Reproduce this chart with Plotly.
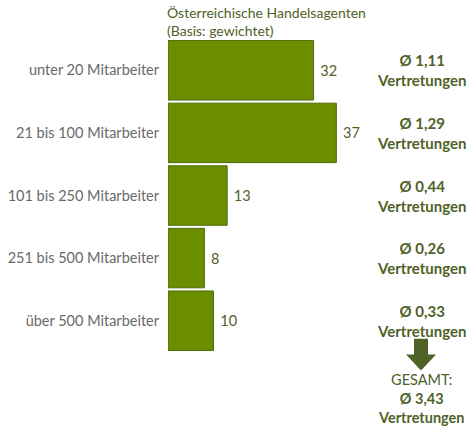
import plotly.graph_objects as go

categories = ["unter 20 Mitarbeiter", "21 bis 100 Mitarbeiter", "101 bis 250 Mitarbeiter",
              "251 bis 500 Mitarbeiter", "über 500 Mitarbeiter"]
values = [32, 37, 13, 8, 10]
averages = ["Ø 1,11", "Ø 1,29", "Ø 0,44", "Ø 0,26", "Ø 0,33"]
total_label = "Ø 3,43"
series_title = "Österreichische Handelsagenten<br>(Basis: gewichtet)"

GREEN = "#6b8e00"
EDGE = "#4f6b00"
DARK = "#4f6228"
GRAY = "#6a6a6a"
FONT = "Lato"

W, H = 468, 436
ML, MT, MB = 168, 38.6, 83.6
PX_PER_UNIT = 4.55
XMAX = (W - ML) / PX_PER_UNIT
PW = W - ML

def xp(px):
    return (px - ML) / PW

def yp(py):
    return (H - MB - py) / (H - MB - MT)

fig = go.Figure(go.Bar(
    x=values, y=categories, orientation="h",
    marker=dict(color=GREEN, line=dict(color=EDGE, width=1)),
    width=0.95,
    text=["\u00a0" + str(v) for v in values], textposition="outside",
    textfont=dict(color=DARK, size=14.5, family=FONT),
    cliponaxis=False,
))

annotations = []
for c, a in zip(categories, averages):
    annotations.append(dict(x=xp(421), y=c, xref="paper", yref="y",
                            text=f"<b>{a}<br>Vertretungen</b>", showarrow=False,
                            font=dict(color=DARK, size=15, family=FONT),
                            align="center", xanchor="center", yanchor="middle"))
annotations.append(dict(x=xp(421), y=yp(399), xref="paper", yref="paper",
                        text=f"GESAMT:<br><b>{total_label}<br>Vertretungen</b>", showarrow=False,
                        font=dict(color=DARK, size=14.5, family=FONT),
                        align="center", xanchor="center", yanchor="middle"))
annotations.append(dict(x=xp(165), y=yp(21), xref="paper", yref="paper",
                        text=series_title, showarrow=False,
                        font=dict(color=DARK, size=14, family=FONT),
                        align="left", xanchor="left", yanchor="middle"))

# down arrow
x0, x1 = xp(414), xp(428)
h0, h1, tip = xp(406), xp(436), xp(421)
ya, yb, yc = yp(339), yp(355), yp(371)
path = f"M {x0},{ya} L {x1},{ya} L {x1},{yb} L {h1},{yb} L {tip},{yc} L {h0},{yb} L {x0},{yb} Z"
shapes = [dict(type="path", path=path, xref="paper", yref="paper",
               fillcolor=DARK, line=dict(width=0))]

fig.update_layout(
    width=W, height=H,
    margin=dict(l=ML, r=0, t=MT, b=MB, autoexpand=False),
    plot_bgcolor="white", paper_bgcolor="white",
    showlegend=False,
    xaxis=dict(range=[0, XMAX], visible=False),
    yaxis=dict(autorange="reversed", showgrid=False, zeroline=False, showline=False,
               ticks="", ticklabelstandoff=8, automargin=False,
               tickfont=dict(color=GRAY, size=14.5, family=FONT)),
    annotations=annotations, shapes=shapes,
)

fig.write_html("out.html", config={"displayModeBar": False},
               post_script="document.body.style.margin='0';")
